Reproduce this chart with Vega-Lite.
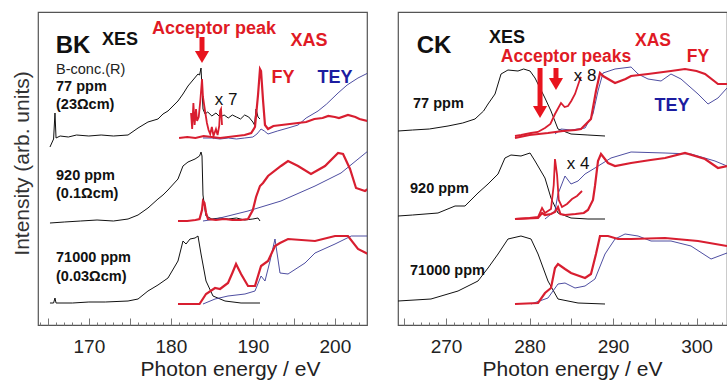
{
"$schema": "https://vega.github.io/schema/vega-lite/v6.json",
"padding": {"left": 10, "top": 11, "right": 0, "bottom": 0},
"spacing": 29,
"background": "white",
"config": {"font": "Liberation Sans", "view": {"stroke": "#555", "strokeWidth": 1.2}},
"datasets": {
"curves": [
{"p":"BK","s":"77x","k":"XES","E":165.26,"I":178},{"p":"BK","s":"77x","k":"XES","E":165.7,"I":186},{"p":"BK","s":"77x","k":"XES","E":165.87,"I":212},{"p":"BK","s":"77x","k":"XES","E":166.0,"I":187},{"p":"BK","s":"77x","k":"XES","E":166.5,"I":189},{"p":"BK","s":"77x","k":"XES","E":167.5,"I":188},{"p":"BK","s":"77x","k":"XES","E":168.5,"I":190},{"p":"BK","s":"77x","k":"XES","E":170,"I":189},{"p":"BK","s":"77x","k":"XES","E":171.5,"I":190},{"p":"BK","s":"77x","k":"XES","E":173,"I":189},{"p":"BK","s":"77x","k":"XES","E":174.78,"I":190},{"p":"BK","s":"77x","k":"XES","E":176.0,"I":197},{"p":"BK","s":"77x","k":"XES","E":177.21,"I":203},{"p":"BK","s":"77x","k":"XES","E":178.43,"I":206},{"p":"BK","s":"77x","k":"XES","E":179.04,"I":211},{"p":"BK","s":"77x","k":"XES","E":179.65,"I":214},{"p":"BK","s":"77x","k":"XES","E":180.87,"I":224},{"p":"BK","s":"77x","k":"XES","E":181.48,"I":231},{"p":"BK","s":"77x","k":"XES","E":182.09,"I":239},{"p":"BK","s":"77x","k":"XES","E":182.7,"I":245},{"p":"BK","s":"77x","k":"XES","E":183.31,"I":251},{"p":"BK","s":"77x","k":"XES","E":183.5,"I":250},{"p":"BK","s":"77x","k":"XES","E":183.68,"I":257},{"p":"BK","s":"77x","k":"XES","E":183.92,"I":216},{"p":"BK","s":"77x","k":"XES","E":184.17,"I":211},{"p":"BK","s":"77x","k":"XES","E":184.5,"I":213},{"p":"BK","s":"77x","k":"XES","E":185,"I":209},{"p":"BK","s":"77x","k":"XES","E":185.5,"I":212},{"p":"BK","s":"77x","k":"XES","E":186,"I":208},{"p":"BK","s":"77x","k":"XES","E":186.5,"I":210},{"p":"BK","s":"77x","k":"XES","E":187,"I":207},{"p":"BK","s":"77x","k":"XES","E":187.5,"I":210},{"p":"BK","s":"77x","k":"XES","E":188,"I":208},{"p":"BK","s":"77x","k":"XES","E":188.5,"I":206},{"p":"BK","s":"77x","k":"XES","E":189,"I":210},{"p":"BK","s":"77x","k":"XES","E":189.5,"I":208},{"p":"BK","s":"77x","k":"XES","E":190.0,"I":203},{"p":"BK","s":"77x","k":"XES","E":190.2,"I":200},{"p":"BK","s":"77x","k":"XES","E":190.39,"I":216},{"p":"BK","s":"77x","k":"XES","E":190.63,"I":208},{"p":"BK","s":"77x","k":"XES","E":190.87,"I":206},
{"p":"BK","s":"77f","k":"FY","E":181.0,"I":187},{"p":"BK","s":"77f","k":"FY","E":182,"I":188},{"p":"BK","s":"77f","k":"FY","E":183,"I":187},{"p":"BK","s":"77f","k":"FY","E":184,"I":189},{"p":"BK","s":"77f","k":"FY","E":185,"I":188},{"p":"BK","s":"77f","k":"FY","E":186,"I":187},{"p":"BK","s":"77f","k":"FY","E":187,"I":188},{"p":"BK","s":"77f","k":"FY","E":188,"I":189},{"p":"BK","s":"77f","k":"FY","E":189,"I":190},{"p":"BK","s":"77f","k":"FY","E":189.8,"I":192},{"p":"BK","s":"77f","k":"FY","E":190.26,"I":198},{"p":"BK","s":"77f","k":"FY","E":190.63,"I":230},{"p":"BK","s":"77f","k":"FY","E":190.87,"I":256},{"p":"BK","s":"77f","k":"FY","E":191.0,"I":254},{"p":"BK","s":"77f","k":"FY","E":191.24,"I":225},{"p":"BK","s":"77f","k":"FY","E":191.48,"I":200},{"p":"BK","s":"77f","k":"FY","E":191.85,"I":196},{"p":"BK","s":"77f","k":"FY","E":192.5,"I":199},{"p":"BK","s":"77f","k":"FY","E":193.5,"I":200},{"p":"BK","s":"77f","k":"FY","E":194.5,"I":201},{"p":"BK","s":"77f","k":"FY","E":195.5,"I":202},{"p":"BK","s":"77f","k":"FY","E":196.5,"I":203},{"p":"BK","s":"77f","k":"FY","E":197.5,"I":206},{"p":"BK","s":"77f","k":"FY","E":198.5,"I":207},{"p":"BK","s":"77f","k":"FY","E":199.2,"I":209},{"p":"BK","s":"77f","k":"FY","E":200,"I":208},{"p":"BK","s":"77f","k":"FY","E":200.5,"I":207},{"p":"BK","s":"77f","k":"FY","E":201.6,"I":210},{"p":"BK","s":"77f","k":"FY","E":202.5,"I":208},{"p":"BK","s":"77f","k":"FY","E":203,"I":206},{"p":"BK","s":"77f","k":"FY","E":204.04,"I":204},
{"p":"BK","s":"77m","k":"MAG","E":182.46,"I":212},{"p":"BK","s":"77m","k":"MAG","E":182.6,"I":196},{"p":"BK","s":"77m","k":"MAG","E":182.75,"I":222},{"p":"BK","s":"77m","k":"MAG","E":182.9,"I":200},{"p":"BK","s":"77m","k":"MAG","E":183.07,"I":216},{"p":"BK","s":"77m","k":"MAG","E":183.2,"I":204},{"p":"BK","s":"77m","k":"MAG","E":183.4,"I":208},{"p":"BK","s":"77m","k":"MAG","E":183.6,"I":225},{"p":"BK","s":"77m","k":"MAG","E":183.8,"I":246},{"p":"BK","s":"77m","k":"MAG","E":183.92,"I":228},{"p":"BK","s":"77m","k":"MAG","E":184.17,"I":214},{"p":"BK","s":"77m","k":"MAG","E":184.4,"I":202},{"p":"BK","s":"77m","k":"MAG","E":184.6,"I":195},{"p":"BK","s":"77m","k":"MAG","E":184.8,"I":191},{"p":"BK","s":"77m","k":"MAG","E":185.0,"I":198},{"p":"BK","s":"77m","k":"MAG","E":185.2,"I":189},{"p":"BK","s":"77m","k":"MAG","E":185.5,"I":196},{"p":"BK","s":"77m","k":"MAG","E":185.7,"I":190},{"p":"BK","s":"77m","k":"MAG","E":185.9,"I":199},{"p":"BK","s":"77m","k":"MAG","E":186.0,"I":214},{"p":"BK","s":"77m","k":"MAG","E":186.12,"I":216},{"p":"BK","s":"77m","k":"MAG","E":186.24,"I":200},
{"p":"BK","s":"77t","k":"TEY","E":183.92,"I":187},{"p":"BK","s":"77t","k":"TEY","E":185,"I":187},{"p":"BK","s":"77t","k":"TEY","E":186,"I":186},{"p":"BK","s":"77t","k":"TEY","E":187,"I":187},{"p":"BK","s":"77t","k":"TEY","E":188,"I":186},{"p":"BK","s":"77t","k":"TEY","E":189,"I":187},{"p":"BK","s":"77t","k":"TEY","E":190,"I":188},{"p":"BK","s":"77t","k":"TEY","E":190.5,"I":191},{"p":"BK","s":"77t","k":"TEY","E":191.0,"I":196},{"p":"BK","s":"77t","k":"TEY","E":191.4,"I":194},{"p":"BK","s":"77t","k":"TEY","E":191.85,"I":191},{"p":"BK","s":"77t","k":"TEY","E":193,"I":194},{"p":"BK","s":"77t","k":"TEY","E":194.29,"I":197},{"p":"BK","s":"77t","k":"TEY","E":195.51,"I":200},{"p":"BK","s":"77t","k":"TEY","E":196.5,"I":207},{"p":"BK","s":"77t","k":"TEY","E":197.95,"I":214},{"p":"BK","s":"77t","k":"TEY","E":199,"I":221},{"p":"BK","s":"77t","k":"TEY","E":200.39,"I":232},{"p":"BK","s":"77t","k":"TEY","E":201.5,"I":240},{"p":"BK","s":"77t","k":"TEY","E":202.82,"I":247},{"p":"BK","s":"77t","k":"TEY","E":204.04,"I":252},
{"p":"BK","s":"920x","k":"XES","E":165.26,"I":102},{"p":"BK","s":"920x","k":"XES","E":167,"I":103},{"p":"BK","s":"920x","k":"XES","E":169,"I":104},{"p":"BK","s":"920x","k":"XES","E":171,"I":105},{"p":"BK","s":"920x","k":"XES","E":173,"I":104},{"p":"BK","s":"920x","k":"XES","E":174.78,"I":106},{"p":"BK","s":"920x","k":"XES","E":176.0,"I":110},{"p":"BK","s":"920x","k":"XES","E":177.21,"I":117},{"p":"BK","s":"920x","k":"XES","E":178.43,"I":126},{"p":"BK","s":"920x","k":"XES","E":179.04,"I":130},{"p":"BK","s":"920x","k":"XES","E":179.65,"I":135},{"p":"BK","s":"920x","k":"XES","E":180.87,"I":146},{"p":"BK","s":"920x","k":"XES","E":181.48,"I":159},{"p":"BK","s":"920x","k":"XES","E":182.09,"I":163},{"p":"BK","s":"920x","k":"XES","E":182.95,"I":166},{"p":"BK","s":"920x","k":"XES","E":183.5,"I":169},{"p":"BK","s":"920x","k":"XES","E":183.68,"I":173},{"p":"BK","s":"920x","k":"XES","E":183.8,"I":169},{"p":"BK","s":"920x","k":"XES","E":183.92,"I":130},{"p":"BK","s":"920x","k":"XES","E":184.17,"I":115},{"p":"BK","s":"920x","k":"XES","E":184.29,"I":109},{"p":"BK","s":"920x","k":"XES","E":185,"I":106},{"p":"BK","s":"920x","k":"XES","E":186,"I":107},{"p":"BK","s":"920x","k":"XES","E":187,"I":106},{"p":"BK","s":"920x","k":"XES","E":188,"I":107},{"p":"BK","s":"920x","k":"XES","E":189,"I":105},{"p":"BK","s":"920x","k":"XES","E":190,"I":106},{"p":"BK","s":"920x","k":"XES","E":190.63,"I":107},{"p":"BK","s":"920x","k":"XES","E":190.87,"I":104},
{"p":"BK","s":"920f","k":"FY","E":180.87,"I":104},{"p":"BK","s":"920f","k":"FY","E":182,"I":104},{"p":"BK","s":"920f","k":"FY","E":183,"I":105},{"p":"BK","s":"920f","k":"FY","E":183.5,"I":106},{"p":"BK","s":"920f","k":"FY","E":183.8,"I":115},{"p":"BK","s":"920f","k":"FY","E":183.92,"I":124},{"p":"BK","s":"920f","k":"FY","E":184.1,"I":122},{"p":"BK","s":"920f","k":"FY","E":184.3,"I":112},{"p":"BK","s":"920f","k":"FY","E":184.53,"I":106},{"p":"BK","s":"920f","k":"FY","E":185.5,"I":105},{"p":"BK","s":"920f","k":"FY","E":186.5,"I":106},{"p":"BK","s":"920f","k":"FY","E":187.5,"I":105},{"p":"BK","s":"920f","k":"FY","E":188.5,"I":105},{"p":"BK","s":"920f","k":"FY","E":189.41,"I":106},{"p":"BK","s":"920f","k":"FY","E":190.0,"I":115},{"p":"BK","s":"920f","k":"FY","E":190.39,"I":128},{"p":"BK","s":"920f","k":"FY","E":190.87,"I":139},{"p":"BK","s":"920f","k":"FY","E":191.24,"I":142},{"p":"BK","s":"920f","k":"FY","E":191.85,"I":149},{"p":"BK","s":"920f","k":"FY","E":193.43,"I":159},{"p":"BK","s":"920f","k":"FY","E":194.29,"I":164},{"p":"BK","s":"920f","k":"FY","E":195.51,"I":159},{"p":"BK","s":"920f","k":"FY","E":197.09,"I":151},{"p":"BK","s":"920f","k":"FY","E":198.8,"I":159},{"p":"BK","s":"920f","k":"FY","E":200.39,"I":172},{"p":"BK","s":"920f","k":"FY","E":201.0,"I":171},{"p":"BK","s":"920f","k":"FY","E":201.85,"I":156},{"p":"BK","s":"920f","k":"FY","E":202.58,"I":137},{"p":"BK","s":"920f","k":"FY","E":203.68,"I":134},{"p":"BK","s":"920f","k":"FY","E":204.04,"I":136},
{"p":"BK","s":"920t","k":"TEY","E":183.92,"I":104},{"p":"BK","s":"920t","k":"TEY","E":185.5,"I":106},{"p":"BK","s":"920t","k":"TEY","E":186.97,"I":109},{"p":"BK","s":"920t","k":"TEY","E":189.41,"I":114},{"p":"BK","s":"920t","k":"TEY","E":193.43,"I":124},{"p":"BK","s":"920t","k":"TEY","E":197.58,"I":139},{"p":"BK","s":"920t","k":"TEY","E":200.75,"I":152},{"p":"BK","s":"920t","k":"TEY","E":204.04,"I":174},
{"p":"BK","s":"Hx","k":"XES","E":165.26,"I":22},{"p":"BK","s":"Hx","k":"XES","E":165.7,"I":22},{"p":"BK","s":"Hx","k":"XES","E":165.87,"I":27},{"p":"BK","s":"Hx","k":"XES","E":166.0,"I":22},{"p":"BK","s":"Hx","k":"XES","E":168,"I":22},{"p":"BK","s":"Hx","k":"XES","E":170,"I":23},{"p":"BK","s":"Hx","k":"XES","E":172,"I":23},{"p":"BK","s":"Hx","k":"XES","E":174.78,"I":24},{"p":"BK","s":"Hx","k":"XES","E":176,"I":26},{"p":"BK","s":"Hx","k":"XES","E":177.21,"I":34},{"p":"BK","s":"Hx","k":"XES","E":178.43,"I":40},{"p":"BK","s":"Hx","k":"XES","E":179.65,"I":47},{"p":"BK","s":"Hx","k":"XES","E":180.87,"I":64},{"p":"BK","s":"Hx","k":"XES","E":181.48,"I":84},{"p":"BK","s":"Hx","k":"XES","E":181.85,"I":81},{"p":"BK","s":"Hx","k":"XES","E":182.34,"I":86},{"p":"BK","s":"Hx","k":"XES","E":182.95,"I":87},{"p":"BK","s":"Hx","k":"XES","E":183.31,"I":89},{"p":"BK","s":"Hx","k":"XES","E":183.68,"I":71},{"p":"BK","s":"Hx","k":"XES","E":184.29,"I":44},{"p":"BK","s":"Hx","k":"XES","E":185.14,"I":29},{"p":"BK","s":"Hx","k":"XES","E":186.6,"I":24},{"p":"BK","s":"Hx","k":"XES","E":188.56,"I":22},{"p":"BK","s":"Hx","k":"XES","E":190.87,"I":22},
{"p":"BK","s":"Hf","k":"FY","E":180.87,"I":21},{"p":"BK","s":"Hf","k":"FY","E":182,"I":21},{"p":"BK","s":"Hf","k":"FY","E":183.5,"I":21},{"p":"BK","s":"Hf","k":"FY","E":184.29,"I":31},{"p":"BK","s":"Hf","k":"FY","E":185.39,"I":37},{"p":"BK","s":"Hf","k":"FY","E":186.0,"I":36},{"p":"BK","s":"Hf","k":"FY","E":186.97,"I":42},{"p":"BK","s":"Hf","k":"FY","E":187.5,"I":52},{"p":"BK","s":"Hf","k":"FY","E":187.95,"I":61},{"p":"BK","s":"Hf","k":"FY","E":188.56,"I":51},{"p":"BK","s":"Hf","k":"FY","E":189.41,"I":39},{"p":"BK","s":"Hf","k":"FY","E":190.26,"I":39},{"p":"BK","s":"Hf","k":"FY","E":191.0,"I":59},{"p":"BK","s":"Hf","k":"FY","E":191.85,"I":64},{"p":"BK","s":"Hf","k":"FY","E":192.7,"I":79},{"p":"BK","s":"Hf","k":"FY","E":193.31,"I":82},{"p":"BK","s":"Hf","k":"FY","E":194.29,"I":86},{"p":"BK","s":"Hf","k":"FY","E":197.58,"I":84},{"p":"BK","s":"Hf","k":"FY","E":200.02,"I":89},{"p":"BK","s":"Hf","k":"FY","E":201.6,"I":89},{"p":"BK","s":"Hf","k":"FY","E":202.82,"I":76},{"p":"BK","s":"Hf","k":"FY","E":204.04,"I":71},
{"p":"BK","s":"Ht","k":"TEY","E":183.92,"I":21},{"p":"BK","s":"Ht","k":"TEY","E":185.39,"I":26},{"p":"BK","s":"Ht","k":"TEY","E":186.97,"I":29},{"p":"BK","s":"Ht","k":"TEY","E":189.04,"I":31},{"p":"BK","s":"Ht","k":"TEY","E":190.26,"I":34},{"p":"BK","s":"Ht","k":"TEY","E":191.0,"I":49},{"p":"BK","s":"Ht","k":"TEY","E":191.48,"I":44},{"p":"BK","s":"Ht","k":"TEY","E":192.09,"I":64},{"p":"BK","s":"Ht","k":"TEY","E":192.7,"I":86},{"p":"BK","s":"Ht","k":"TEY","E":193.31,"I":52},{"p":"BK","s":"Ht","k":"TEY","E":194.29,"I":51},{"p":"BK","s":"Ht","k":"TEY","E":196.36,"I":62},{"p":"BK","s":"Ht","k":"TEY","E":197.58,"I":72},{"p":"BK","s":"Ht","k":"TEY","E":200.02,"I":81},{"p":"BK","s":"Ht","k":"TEY","E":202.0,"I":89},{"p":"BK","s":"Ht","k":"TEY","E":204.04,"I":89},
{"p":"CK","s":"77x","k":"XES","E":264.25,"I":194},{"p":"CK","s":"77x","k":"XES","E":266,"I":195},{"p":"CK","s":"77x","k":"XES","E":268,"I":196},{"p":"CK","s":"77x","k":"XES","E":270.24,"I":199},{"p":"CK","s":"77x","k":"XES","E":272,"I":202},{"p":"CK","s":"77x","k":"XES","E":273.47,"I":206},{"p":"CK","s":"77x","k":"XES","E":274.5,"I":214},{"p":"CK","s":"77x","k":"XES","E":275.03,"I":221},{"p":"CK","s":"77x","k":"XES","E":275.87,"I":231},{"p":"CK","s":"77x","k":"XES","E":276.59,"I":251},{"p":"CK","s":"77x","k":"XES","E":277.42,"I":255},{"p":"CK","s":"77x","k":"XES","E":278.62,"I":254},{"p":"CK","s":"77x","k":"XES","E":279.3,"I":256},{"p":"CK","s":"77x","k":"XES","E":280.06,"I":254},{"p":"CK","s":"77x","k":"XES","E":280.66,"I":247},{"p":"CK","s":"77x","k":"XES","E":281.85,"I":227},{"p":"CK","s":"77x","k":"XES","E":282.57,"I":214},{"p":"CK","s":"77x","k":"XES","E":283.41,"I":196},{"p":"CK","s":"77x","k":"XES","E":284.97,"I":191},{"p":"CK","s":"77x","k":"XES","E":287,"I":190},{"p":"CK","s":"77x","k":"XES","E":289.04,"I":189},
{"p":"CK","s":"77f","k":"FY","E":278.26,"I":187},{"p":"CK","s":"77f","k":"FY","E":280,"I":190},{"p":"CK","s":"77f","k":"FY","E":282.21,"I":192},{"p":"CK","s":"77f","k":"FY","E":284,"I":194},{"p":"CK","s":"77f","k":"FY","E":285.5,"I":195},{"p":"CK","s":"77f","k":"FY","E":286.17,"I":196},{"p":"CK","s":"77f","k":"FY","E":287.36,"I":206},{"p":"CK","s":"77f","k":"FY","E":287.96,"I":234},{"p":"CK","s":"77f","k":"FY","E":288.44,"I":252},{"p":"CK","s":"77f","k":"FY","E":288.8,"I":249},{"p":"CK","s":"77f","k":"FY","E":290.24,"I":242},{"p":"CK","s":"77f","k":"FY","E":291.5,"I":246},{"p":"CK","s":"77f","k":"FY","E":292.16,"I":249},{"p":"CK","s":"77f","k":"FY","E":294.19,"I":251},{"p":"CK","s":"77f","k":"FY","E":296.94,"I":254},{"p":"CK","s":"77f","k":"FY","E":298.62,"I":256},{"p":"CK","s":"77f","k":"FY","E":300,"I":254},{"p":"CK","s":"77f","k":"FY","E":301.02,"I":251},{"p":"CK","s":"77f","k":"FY","E":302.57,"I":241},{"p":"CK","s":"77f","k":"FY","E":303.65,"I":241},
{"p":"CK","s":"77m","k":"MAG","E":278.26,"I":189},{"p":"CK","s":"77m","k":"MAG","E":279,"I":190},{"p":"CK","s":"77m","k":"MAG","E":280.18,"I":192},{"p":"CK","s":"77m","k":"MAG","E":281,"I":193},{"p":"CK","s":"77m","k":"MAG","E":281.85,"I":197},{"p":"CK","s":"77m","k":"MAG","E":282.5,"I":201},{"p":"CK","s":"77m","k":"MAG","E":283.05,"I":211},{"p":"CK","s":"77m","k":"MAG","E":283.77,"I":222},{"p":"CK","s":"77m","k":"MAG","E":284.2,"I":218},{"p":"CK","s":"77m","k":"MAG","E":284.61,"I":219},{"p":"CK","s":"77m","k":"MAG","E":285.0,"I":224},{"p":"CK","s":"77m","k":"MAG","E":285.45,"I":231},{"p":"CK","s":"77m","k":"MAG","E":286.05,"I":246},{"p":"CK","s":"77m","k":"MAG","E":286.17,"I":248},
{"p":"CK","s":"77t","k":"TEY","E":283.05,"I":191},{"p":"CK","s":"77t","k":"TEY","E":283.77,"I":196},{"p":"CK","s":"77t","k":"TEY","E":284.97,"I":195},{"p":"CK","s":"77t","k":"TEY","E":286.65,"I":197},{"p":"CK","s":"77t","k":"TEY","E":287.6,"I":211},{"p":"CK","s":"77t","k":"TEY","E":288.2,"I":234},{"p":"CK","s":"77t","k":"TEY","E":288.8,"I":252},{"p":"CK","s":"77t","k":"TEY","E":290.24,"I":256},{"p":"CK","s":"77t","k":"TEY","E":292.16,"I":258},{"p":"CK","s":"77t","k":"TEY","E":293.0,"I":251},{"p":"CK","s":"77t","k":"TEY","E":294.19,"I":246},{"p":"CK","s":"77t","k":"TEY","E":295.75,"I":244},{"p":"CK","s":"77t","k":"TEY","E":296.94,"I":251},{"p":"CK","s":"77t","k":"TEY","E":298.14,"I":246},{"p":"CK","s":"77t","k":"TEY","E":300.18,"I":231},{"p":"CK","s":"77t","k":"TEY","E":301.38,"I":221},{"p":"CK","s":"77t","k":"TEY","E":302.57,"I":227},{"p":"CK","s":"77t","k":"TEY","E":303.65,"I":237},
{"p":"CK","s":"920x","k":"XES","E":264.25,"I":109},{"p":"CK","s":"920x","k":"XES","E":266,"I":110},{"p":"CK","s":"920x","k":"XES","E":269.04,"I":112},{"p":"CK","s":"920x","k":"XES","E":271.08,"I":119},{"p":"CK","s":"920x","k":"XES","E":272.27,"I":119},{"p":"CK","s":"920x","k":"XES","E":273.83,"I":132},{"p":"CK","s":"920x","k":"XES","E":275.03,"I":141},{"p":"CK","s":"920x","k":"XES","E":276.23,"I":151},{"p":"CK","s":"920x","k":"XES","E":277.06,"I":167},{"p":"CK","s":"920x","k":"XES","E":277.78,"I":170},{"p":"CK","s":"920x","k":"XES","E":278.98,"I":169},{"p":"CK","s":"920x","k":"XES","E":280.06,"I":172},{"p":"CK","s":"920x","k":"XES","E":280.66,"I":164},{"p":"CK","s":"920x","k":"XES","E":281.85,"I":147},{"p":"CK","s":"920x","k":"XES","E":282.57,"I":127},{"p":"CK","s":"920x","k":"XES","E":283.41,"I":112},{"p":"CK","s":"920x","k":"XES","E":284.97,"I":107},{"p":"CK","s":"920x","k":"XES","E":287,"I":106},{"p":"CK","s":"920x","k":"XES","E":289.04,"I":106},
{"p":"CK","s":"920f","k":"FY","E":278.26,"I":106},{"p":"CK","s":"920f","k":"FY","E":281.02,"I":107},{"p":"CK","s":"920f","k":"FY","E":281.5,"I":112},{"p":"CK","s":"920f","k":"FY","E":281.85,"I":110},{"p":"CK","s":"920f","k":"FY","E":282.57,"I":111},{"p":"CK","s":"920f","k":"FY","E":283.05,"I":113},{"p":"CK","s":"920f","k":"FY","E":283.41,"I":118},{"p":"CK","s":"920f","k":"FY","E":283.7,"I":111},{"p":"CK","s":"920f","k":"FY","E":284.25,"I":110},{"p":"CK","s":"920f","k":"FY","E":285.5,"I":111},{"p":"CK","s":"920f","k":"FY","E":286.5,"I":112},{"p":"CK","s":"920f","k":"FY","E":287.0,"I":115},{"p":"CK","s":"920f","k":"FY","E":287.6,"I":125},{"p":"CK","s":"920f","k":"FY","E":287.84,"I":139},{"p":"CK","s":"920f","k":"FY","E":288.2,"I":164},{"p":"CK","s":"920f","k":"FY","E":288.56,"I":171},{"p":"CK","s":"920f","k":"FY","E":289.4,"I":162},{"p":"CK","s":"920f","k":"FY","E":290.24,"I":159},{"p":"CK","s":"920f","k":"FY","E":292.16,"I":162},{"p":"CK","s":"920f","k":"FY","E":294.5,"I":165},{"p":"CK","s":"920f","k":"FY","E":296.23,"I":167},{"p":"CK","s":"920f","k":"FY","E":298.62,"I":172},{"p":"CK","s":"920f","k":"FY","E":301.02,"I":166},{"p":"CK","s":"920f","k":"FY","E":302.57,"I":157},{"p":"CK","s":"920f","k":"FY","E":303.65,"I":159},
{"p":"CK","s":"920m","k":"MAG","E":278.26,"I":106},{"p":"CK","s":"920m","k":"MAG","E":280,"I":107},{"p":"CK","s":"920m","k":"MAG","E":281.02,"I":108},{"p":"CK","s":"920m","k":"MAG","E":281.5,"I":117},{"p":"CK","s":"920m","k":"MAG","E":281.85,"I":112},{"p":"CK","s":"920m","k":"MAG","E":282.57,"I":116},{"p":"CK","s":"920m","k":"MAG","E":282.9,"I":140},{"p":"CK","s":"920m","k":"MAG","E":283.05,"I":166},{"p":"CK","s":"920m","k":"MAG","E":283.3,"I":150},{"p":"CK","s":"920m","k":"MAG","E":283.5,"I":125},{"p":"CK","s":"920m","k":"MAG","E":283.89,"I":118},{"p":"CK","s":"920m","k":"MAG","E":284.49,"I":121},{"p":"CK","s":"920m","k":"MAG","E":285.09,"I":126},{"p":"CK","s":"920m","k":"MAG","E":285.69,"I":129},{"p":"CK","s":"920m","k":"MAG","E":286.29,"I":134},
{"p":"CK","s":"920t","k":"TEY","E":281.85,"I":106},{"p":"CK","s":"920t","k":"TEY","E":283.05,"I":114},{"p":"CK","s":"920t","k":"TEY","E":283.41,"I":131},{"p":"CK","s":"920t","k":"TEY","E":284.25,"I":149},{"p":"CK","s":"920t","k":"TEY","E":284.97,"I":141},{"p":"CK","s":"920t","k":"TEY","E":285.81,"I":144},{"p":"CK","s":"920t","k":"TEY","E":286.65,"I":151},{"p":"CK","s":"920t","k":"TEY","E":287.84,"I":157},{"p":"CK","s":"920t","k":"TEY","E":289.76,"I":167},{"p":"CK","s":"920t","k":"TEY","E":292.16,"I":173},{"p":"CK","s":"920t","k":"TEY","E":296.23,"I":172},{"p":"CK","s":"920t","k":"TEY","E":299.34,"I":171},{"p":"CK","s":"920t","k":"TEY","E":302.21,"I":164},{"p":"CK","s":"920t","k":"TEY","E":303.65,"I":159},
{"p":"CK","s":"Hx","k":"XES","E":264.25,"I":24},{"p":"CK","s":"Hx","k":"XES","E":268.2,"I":26},{"p":"CK","s":"Hx","k":"XES","E":271.44,"I":34},{"p":"CK","s":"Hx","k":"XES","E":273.83,"I":44},{"p":"CK","s":"Hx","k":"XES","E":275.03,"I":57},{"p":"CK","s":"Hx","k":"XES","E":276.23,"I":71},{"p":"CK","s":"Hx","k":"XES","E":277.42,"I":86},{"p":"CK","s":"Hx","k":"XES","E":278.98,"I":89},{"p":"CK","s":"Hx","k":"XES","E":280.18,"I":86},{"p":"CK","s":"Hx","k":"XES","E":281.02,"I":71},{"p":"CK","s":"Hx","k":"XES","E":282.21,"I":44},{"p":"CK","s":"Hx","k":"XES","E":283.41,"I":26},{"p":"CK","s":"Hx","k":"XES","E":285.81,"I":22},{"p":"CK","s":"Hx","k":"XES","E":289.04,"I":21},
{"p":"CK","s":"Hf","k":"FY","E":278.26,"I":21},{"p":"CK","s":"Hf","k":"FY","E":281.02,"I":22},{"p":"CK","s":"Hf","k":"FY","E":281.85,"I":32},{"p":"CK","s":"Hf","k":"FY","E":282.57,"I":37},{"p":"CK","s":"Hf","k":"FY","E":283.05,"I":57},{"p":"CK","s":"Hf","k":"FY","E":283.41,"I":61},{"p":"CK","s":"Hf","k":"FY","E":284.25,"I":56},{"p":"CK","s":"Hf","k":"FY","E":284.97,"I":52},{"p":"CK","s":"Hf","k":"FY","E":286.65,"I":47},{"p":"CK","s":"Hf","k":"FY","E":287.36,"I":51},{"p":"CK","s":"Hf","k":"FY","E":287.96,"I":71},{"p":"CK","s":"Hf","k":"FY","E":288.44,"I":89},{"p":"CK","s":"Hf","k":"FY","E":289.4,"I":89},{"p":"CK","s":"Hf","k":"FY","E":290.6,"I":86},{"p":"CK","s":"Hf","k":"FY","E":292.16,"I":86},{"p":"CK","s":"Hf","k":"FY","E":296.23,"I":87},{"p":"CK","s":"Hf","k":"FY","E":300.18,"I":84},{"p":"CK","s":"Hf","k":"FY","E":303.65,"I":79},
{"p":"CK","s":"Ht","k":"TEY","E":280.18,"I":21},{"p":"CK","s":"Ht","k":"TEY","E":282.21,"I":27},{"p":"CK","s":"Ht","k":"TEY","E":283.41,"I":41},{"p":"CK","s":"Ht","k":"TEY","E":284.25,"I":42},{"p":"CK","s":"Ht","k":"TEY","E":285.45,"I":37},{"p":"CK","s":"Ht","k":"TEY","E":286.65,"I":39},{"p":"CK","s":"Ht","k":"TEY","E":287.84,"I":46},{"p":"CK","s":"Ht","k":"TEY","E":289.04,"I":71},{"p":"CK","s":"Ht","k":"TEY","E":290.24,"I":86},{"p":"CK","s":"Ht","k":"TEY","E":291.44,"I":91},{"p":"CK","s":"Ht","k":"TEY","E":293.0,"I":89},{"p":"CK","s":"Ht","k":"TEY","E":294.55,"I":84},{"p":"CK","s":"Ht","k":"TEY","E":296.94,"I":84},{"p":"CK","s":"Ht","k":"TEY","E":299.34,"I":79},{"p":"CK","s":"Ht","k":"TEY","E":301.74,"I":66},{"p":"CK","s":"Ht","k":"TEY","E":303.65,"I":72}
],
"labels": [
{"p":"BK","g":"big","t":"BK","E":168.07,"I":272},
{"p":"BK","g":"head","t":"XES","E":173.8,"I":280},
{"p":"BK","g":"red","t":"Acceptor peak","E":185.26,"I":291},
{"p":"BK","g":"red","t":"XAS","E":196.85,"I":279},
{"p":"BK","g":"red","t":"FY","E":193.68,"I":242},
{"p":"BK","g":"blue","t":"TEY","E":200.02,"I":242},
{"p":"BK","g":"mult","t":"x 7","E":186.73,"I":220},
{"p":"BK","g":"note","t":"B-conc.(R)","E":166.0,"I":251},
{"p":"BK","g":"samp","t":"77 ppm","E":166.0,"I":234},
{"p":"BK","g":"samp","t":"(23Ωcm)","E":166.0,"I":216},
{"p":"BK","g":"samp","t":"920 ppm","E":166.0,"I":145},
{"p":"BK","g":"samp","t":"(0.1Ωcm)","E":166.0,"I":127},
{"p":"BK","g":"samp","t":"71000 ppm","E":166.0,"I":63},
{"p":"BK","g":"samp","t":"(0.03Ωcm)","E":166.0,"I":44},
{"p":"CK","g":"big","t":"CK","E":268.56,"I":272},
{"p":"CK","g":"head","t":"XES","E":277.3,"I":282},
{"p":"CK","g":"red","t":"XAS","E":294.79,"I":279},
{"p":"CK","g":"red","t":"Acceptor peaks","E":284.37,"I":263},
{"p":"CK","g":"red","t":"FY","E":300.18,"I":263},
{"p":"CK","g":"blue","t":"TEY","E":297.06,"I":214},
{"p":"CK","g":"mult","t":"x 8","E":286.65,"I":244},
{"p":"CK","g":"mult","t":"x 4","E":285.81,"I":156},
{"p":"CK","g":"samp","t":"77 ppm","E":266.05,"I":217},
{"p":"CK","g":"samp","t":"920 ppm","E":265.69,"I":132},
{"p":"CK","g":"samp","t":"71000 ppm","E":265.69,"I":50}
],
"arrows": [
{"p":"BK","E":183.8,"I":288,"I2":272},
{"p":"CK","E":281.26,"I":257,"I2":217},
{"p":"CK","E":283.17,"I":257,"I2":245}
],
"heads": [
{"p":"BK","E":183.8,"I":268},
{"p":"CK","E":281.26,"I":213},
{"p":"CK","E":283.17,"I":241}
]
},
"hconcat": [
{
"width": 329, "height": 313,
"encoding": {
"x": {"field": "E", "type": "quantitative", "scale": {"domain": [163.8, 203.92], "nice": false, "zero": false},
 "axis": {"title": "Photon energy / eV", "values": [164,165,166,167,168,169,170,171,172,173,174,175,176,177,178,179,180,181,182,183,184,185,186,187,188,189,190,191,192,193,194,195,196,197,198,199,200,201,202,203],
 "labelExpr": "datum.value % 10 === 0 ? datum.label : ''", "tickSize": {"condition": {"test": "datum.value % 5 === 0", "value": -7}, "value": -3},
 "domain": false, "grid": false, "labelFontSize": 19, "labelColor": "#222", "labelPadding": 19, "labelOverlap": false, "labelFlush": false, "labelBound": false,
 "titleFontSize": 21, "titleFontWeight": "normal", "titleColor": "#222", "titleX": 192, "titleAlign": "center", "titlePadding": -2, "tickColor": "#777", "tickWidth": 1}},
"y": {"field": "I", "type": "quantitative", "scale": {"domain": [0, 313], "nice": false, "zero": false},
 "axis": {"title": "Intensity (arb. units)", "labels": false, "ticks": false, "domain": false, "grid": false, "titleFontSize": 21, "titleFontWeight": "normal", "titleColor": "#333", "titlePadding": 6, "titleY": 151}}
},
"layer": [
{"data": {"name": "curves"}, "transform": [{"filter": "datum.p === 'BK' && datum.k === 'XES'"}], "mark": {"type": "line", "color": "#111", "strokeWidth": 1, "clip": true}, "encoding": {"detail": {"field": "s", "type": "nominal"}}},
{"data": {"name": "curves"}, "transform": [{"filter": "datum.p === 'BK' && datum.k === 'TEY'"}], "mark": {"type": "line", "color": "#3a3a96", "strokeWidth": 0.9, "clip": true}, "encoding": {"detail": {"field": "s", "type": "nominal"}}},
{"data": {"name": "curves"}, "transform": [{"filter": "datum.p === 'BK' && datum.k === 'MAG'"}], "mark": {"type": "line", "color": "#d81e30", "strokeWidth": 1.8, "clip": true}, "encoding": {"detail": {"field": "s", "type": "nominal"}}},
{"data": {"name": "curves"}, "transform": [{"filter": "datum.p === 'BK' && datum.k === 'FY'"}], "mark": {"type": "line", "color": "#d81e30", "strokeWidth": 2.2, "clip": true}, "encoding": {"detail": {"field": "s", "type": "nominal"}}},
{"data": {"name": "arrows"}, "transform": [{"filter": "datum.p === 'BK'"}], "mark": {"type": "rule", "color": "#e8141e", "strokeWidth": 5}, "encoding": {"y2": {"field": "I2"}}},
{"data": {"name": "heads"}, "transform": [{"filter": "datum.p === 'BK'"}], "mark": {"type": "point", "shape": "triangle-down", "filled": true, "size": 200, "color": "#e8141e", "opacity": 1}},
{"data": {"name": "labels"}, "transform": [{"filter": "datum.p === 'BK' && datum.g === 'big'"}], "mark": {"type": "text", "align": "center", "baseline": "alphabetic", "fontSize": 24, "fontWeight": "bold", "color": "#111"}, "encoding": {"text": {"field": "t"}}},
{"data": {"name": "labels"}, "transform": [{"filter": "datum.p === 'BK' && datum.g === 'head'"}], "mark": {"type": "text", "align": "center", "baseline": "alphabetic", "fontSize": 18, "fontWeight": "bold", "color": "#111"}, "encoding": {"text": {"field": "t"}}},
{"data": {"name": "labels"}, "transform": [{"filter": "datum.p === 'BK' && datum.g === 'red'"}], "mark": {"type": "text", "align": "center", "baseline": "alphabetic", "fontSize": 18, "fontWeight": "bold", "color": "#e01a25"}, "encoding": {"text": {"field": "t"}}},
{"data": {"name": "labels"}, "transform": [{"filter": "datum.p === 'BK' && datum.g === 'blue'"}], "mark": {"type": "text", "align": "center", "baseline": "alphabetic", "fontSize": 18, "fontWeight": "bold", "color": "#1c1ca0"}, "encoding": {"text": {"field": "t"}}},
{"data": {"name": "labels"}, "transform": [{"filter": "datum.p === 'BK' && datum.g === 'mult'"}], "mark": {"type": "text", "align": "center", "baseline": "alphabetic", "fontSize": 17, "color": "#111"}, "encoding": {"text": {"field": "t"}}},
{"data": {"name": "labels"}, "transform": [{"filter": "datum.p === 'BK' && datum.g === 'note'"}], "mark": {"type": "text", "align": "left", "baseline": "alphabetic", "fontSize": 14.5, "color": "#222"}, "encoding": {"text": {"field": "t"}}},
{"data": {"name": "labels"}, "transform": [{"filter": "datum.p === 'BK' && datum.g === 'samp'"}], "mark": {"type": "text", "align": "left", "baseline": "alphabetic", "fontSize": 14.5, "fontWeight": "bold", "color": "#111"}, "encoding": {"text": {"field": "t"}}}
]
},
{
"width": 329, "height": 313,
"encoding": {
"x": {"field": "E", "type": "quantitative", "scale": {"domain": [264.25, 303.65], "nice": false, "zero": false},
 "axis": {"title": "Photon energy / eV", "values": [265,266,267,268,269,270,271,272,273,274,275,276,277,278,279,280,281,282,283,284,285,286,287,288,289,290,291,292,293,294,295,296,297,298,299,300,301,302,303],
 "labelExpr": "datum.value % 10 === 0 ? datum.label : ''", "tickSize": {"condition": {"test": "datum.value % 5 === 0", "value": -7}, "value": -3},
 "domain": false, "grid": false, "labelFontSize": 19, "labelColor": "#222", "labelPadding": 19, "labelOverlap": false, "labelFlush": false, "labelBound": false,
 "titleFontSize": 21, "titleFontWeight": "normal", "titleColor": "#222", "titleX": 174, "titleAlign": "center", "titlePadding": -2, "tickColor": "#777", "tickWidth": 1}},
"y": {"field": "I", "type": "quantitative", "scale": {"domain": [0, 313], "nice": false, "zero": false}, "axis": null}
},
"layer": [
{"data": {"name": "curves"}, "transform": [{"filter": "datum.p === 'CK' && datum.k === 'XES'"}], "mark": {"type": "line", "color": "#111", "strokeWidth": 1, "clip": true}, "encoding": {"detail": {"field": "s", "type": "nominal"}}},
{"data": {"name": "curves"}, "transform": [{"filter": "datum.p === 'CK' && datum.k === 'TEY'"}], "mark": {"type": "line", "color": "#3a3a96", "strokeWidth": 0.9, "clip": true}, "encoding": {"detail": {"field": "s", "type": "nominal"}}},
{"data": {"name": "curves"}, "transform": [{"filter": "datum.p === 'CK' && datum.k === 'MAG'"}], "mark": {"type": "line", "color": "#d81e30", "strokeWidth": 1.8, "clip": true}, "encoding": {"detail": {"field": "s", "type": "nominal"}}},
{"data": {"name": "curves"}, "transform": [{"filter": "datum.p === 'CK' && datum.k === 'FY'"}], "mark": {"type": "line", "color": "#d81e30", "strokeWidth": 2.2, "clip": true}, "encoding": {"detail": {"field": "s", "type": "nominal"}}},
{"data": {"name": "arrows"}, "transform": [{"filter": "datum.p === 'CK'"}], "mark": {"type": "rule", "color": "#e8141e", "strokeWidth": 5}, "encoding": {"y2": {"field": "I2"}}},
{"data": {"name": "heads"}, "transform": [{"filter": "datum.p === 'CK'"}], "mark": {"type": "point", "shape": "triangle-down", "filled": true, "size": 200, "color": "#e8141e", "opacity": 1}},
{"data": {"name": "labels"}, "transform": [{"filter": "datum.p === 'CK' && datum.g === 'big'"}], "mark": {"type": "text", "align": "center", "baseline": "alphabetic", "fontSize": 24, "fontWeight": "bold", "color": "#111"}, "encoding": {"text": {"field": "t"}}},
{"data": {"name": "labels"}, "transform": [{"filter": "datum.p === 'CK' && datum.g === 'head'"}], "mark": {"type": "text", "align": "center", "baseline": "alphabetic", "fontSize": 18, "fontWeight": "bold", "color": "#111"}, "encoding": {"text": {"field": "t"}}},
{"data": {"name": "labels"}, "transform": [{"filter": "datum.p === 'CK' && datum.g === 'red'"}], "mark": {"type": "text", "align": "center", "baseline": "alphabetic", "fontSize": 17.5, "fontWeight": "bold", "color": "#e01a25"}, "encoding": {"text": {"field": "t"}}},
{"data": {"name": "labels"}, "transform": [{"filter": "datum.p === 'CK' && datum.g === 'blue'"}], "mark": {"type": "text", "align": "center", "baseline": "alphabetic", "fontSize": 18, "fontWeight": "bold", "color": "#1c1ca0"}, "encoding": {"text": {"field": "t"}}},
{"data": {"name": "labels"}, "transform": [{"filter": "datum.p === 'CK' && datum.g === 'mult'"}], "mark": {"type": "text", "align": "center", "baseline": "alphabetic", "fontSize": 17, "color": "#111"}, "encoding": {"text": {"field": "t"}}},
{"data": {"name": "labels"}, "transform": [{"filter": "datum.p === 'CK' && datum.g === 'samp'"}], "mark": {"type": "text", "align": "left", "baseline": "alphabetic", "fontSize": 14.5, "fontWeight": "bold", "color": "#111"}, "encoding": {"text": {"field": "t"}}}
]
}
]
}
